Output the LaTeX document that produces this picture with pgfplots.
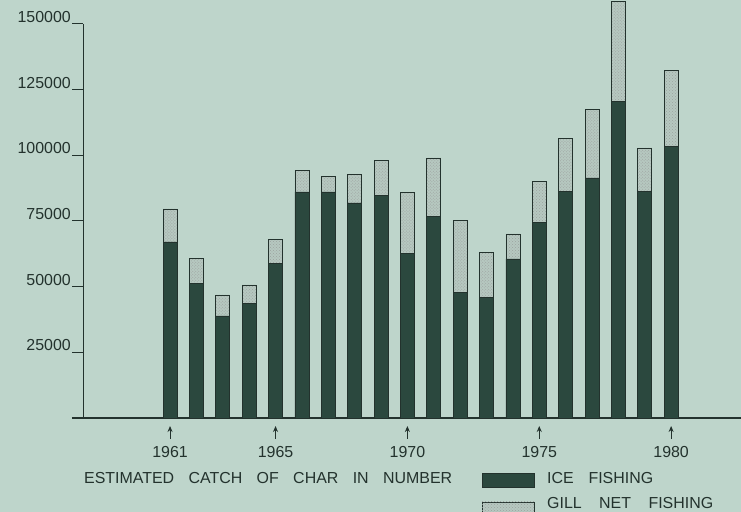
\documentclass[border=0pt]{standalone}
\usepackage{fontspec}
\setmainfont{Liberation Sans}
\usepackage{pgfplots}
\usepackage{pgfplotstable}
\pgfplotsset{compat=1.18}
\usetikzlibrary{patterns,arrows.meta}

\definecolor{bg}{RGB}{190,213,203}
\definecolor{ice}{RGB}{43,72,62}
\definecolor{gill}{RGB}{182,200,192}
\definecolor{ink}{RGB}{35,50,45}

% estimated catch of char
\pgfplotstableread{
year ice gill
1961 67000 12500
1962 51300 9500
1963 38800 8000
1964 43700 6900
1965 58900 9100
1966 86000 8300
1967 86000 6000
1968 81800 11000
1969 84800 13300
1970 62700 23200
1971 76800 22100
1972 47900 27400
1973 46000 17100
1974 60500 9500
1975 74500 15600
1976 86300 20200
1977 91300 26200
1978 120500 38000
1979 86300 16400
1980 103400 28900
}\catch

\newcommand\lbl{\fontsize{16}{18}\selectfont}

\begin{document}
\begin{tikzpicture}[x=1bp,y=1bp,font=\lbl]
\fill[bg] (-83,-94) rectangle (658,418);
\begin{axis}[%
width=658bp,
height=418bp,
at={(0,0)},
scale only axis,
clip=false,
xmin=1957.7,
xmax=1982.65,
ymin=0,
ymax=159000,
ybar stacked,
bar width=14bp,
axis line style={draw=none},
ytick={25000,50000,75000,100000,125000,150000},
yticklabels={25000,50000,75000,100000,125000,150000},
xtick={1961,1965,1970,1975,1980},
xticklabels={1961,1965,1970,1975,1980},
ytick pos=left,
xtick pos=bottom,
tick align=outside,
major tick length=11bp,
ytick style={draw=ink, line width=0.8bp},
xtick style={draw=none},
ticklabel style={text=ink, font=\lbl},
yticklabel style={anchor=south east, inner sep=1bp},
xticklabel style={anchor=north, inner sep=0pt, yshift=-17bp},
]
\addplot[fill=ice, draw=ink, line width=0.6bp] table[x=year, y=ice] {\catch};
\addplot[fill=gill, draw=ink, line width=0.6bp,
  postaction={pattern=crosshatch dots, pattern color=ink!45}] table[x=year, y=gill] {\catch};

\draw[ink, line width=1.3bp] ([xshift=-11bp]axis cs:1957.7,0) -- (axis cs:1982.65,0);
\draw[ink, line width=0.8bp] (axis cs:1957.7,0) -- (axis cs:1957.7,150000);
\pgfplotsinvokeforeach{1961,1965,1970,1975,1980}{
  \draw[ink, line width=1bp, -{Stealth[length=6bp,width=5bp]}]
    ([yshift=-21bp]axis cs:#1,0) -- ([yshift=-8bp]axis cs:#1,0);
}
\end{axis}

\node[anchor=west, inner sep=0pt, text=ink] at (1,-60)
  {\makebox[368bp][s]{ESTIMATED CATCH OF CHAR IN NUMBER}};
\draw[ink, line width=0.6bp, fill=ice] (399,-55) rectangle (451,-69);
\node[anchor=west, inner sep=0pt, text=ink] at (464,-60)
  {\makebox[106bp][s]{ICE FISHING}};
\draw[ink, line width=0.6bp, fill=gill,
  postaction={pattern=crosshatch dots, pattern color=ink!45}] (399,-84) rectangle (451,-98);
\node[anchor=west, inner sep=0pt, text=ink] at (464,-85.5)
  {\makebox[166bp][s]{GILL NET FISHING}};

\pgfresetboundingbox
\path[use as bounding box] (-83,-94) rectangle (658,418);
\end{tikzpicture}
\end{document}
